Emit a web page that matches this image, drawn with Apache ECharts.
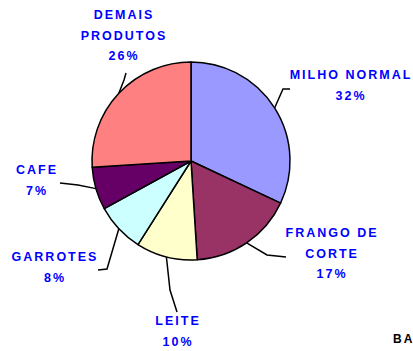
<!DOCTYPE html>
<html>
<head>
<meta charset="utf-8">
<script src="https://cdn.jsdelivr.net/npm/echarts@6/dist/echarts.min.js"></script>
<style>
  html, body { margin: 0; padding: 0; background: #ffffff; }
  #chart { width: 413px; height: 351px; letter-spacing: 2px; }
</style>
</head>
<body>
<div id="chart"></div>
<script>
// Product shares (%) of the pie, clockwise from 12 o'clock
const categories = ['MILHO NORMAL', 'FRANGO DE\nCORTE', 'LEITE', 'GARROTES', 'CAFE', 'DEMAIS\nPRODUTOS'];
const shares = [32, 17, 10, 8, 7, 26];
const sliceColors = ['#9999FF', '#993366', '#FFFFCC', '#CCFFFF', '#660066', '#FF8080'];

// Label placement: [centre x, top y] of each label block
const labelAnchors = [[351, 65], [332, 223], [178, 311], [55, 247], [37, 160], [124, 5]];
// Bend and end points of each leader line (the start is the slice edge)
const leaderBends = [
  [[283, 89], [290, 89]],
  [[267, 255], [286, 257]],
  [[170, 290], [177, 312]],
  [[107, 269], [98, 270]],
  [[78, 185], [60, 183]],
  [[124, 80], [126, 73]]
];

const chart = echarts.init(document.getElementById('chart'), null, { renderer: 'svg' });

chart.setOption({
  backgroundColor: '#ffffff',
  animation: false,
  series: [{
    type: 'pie',
    center: [191, 161],
    radius: 99,
    startAngle: 90,
    clockwise: true,
    data: categories.map((name, i) => ({
      name: name,
      value: shares[i],
      itemStyle: { color: sliceColors[i] }
    })),
    itemStyle: { borderColor: '#000000', borderWidth: 1.5 },
    label: {
      show: true,
      position: 'outside',
      formatter: p => p.name + '\n' + p.value + '%',
      color: '#0000FF',
      fontFamily: 'Liberation Sans',
      fontWeight: 'bold',
      fontSize: 12.5,
      lineHeight: 20.5,
      align: 'center'
    },
    labelLine: {
      show: true,
      length: 10,
      length2: 10,
      lineStyle: { color: '#000000', width: 1.5 }
    },
    labelLayout: function (params) {
      const i = params.dataIndex;
      const start = params.labelLinePoints ? params.labelLinePoints[0] : leaderBends[i][0];
      return {
        x: labelAnchors[i][0],
        y: labelAnchors[i][1],
        align: 'center',
        verticalAlign: 'top',
        labelLinePoints: [start, leaderBends[i][0], leaderBends[i][1]]
      };
    },
    emphasis: { disabled: true }
  }],
  graphic: [
    {
      type: 'text',
      left: 138,
      top: 118,
      style: { text: '32', fill: '#000000', font: 'bold 12px "Liberation Sans"' }
    },
    {
      type: 'text',
      left: 393,
      top: 333,
      style: { text: 'BA', fill: '#000000', font: 'bold 12px "Liberation Sans"' }
    }
  ]
});
</script>
</body>
</html>
